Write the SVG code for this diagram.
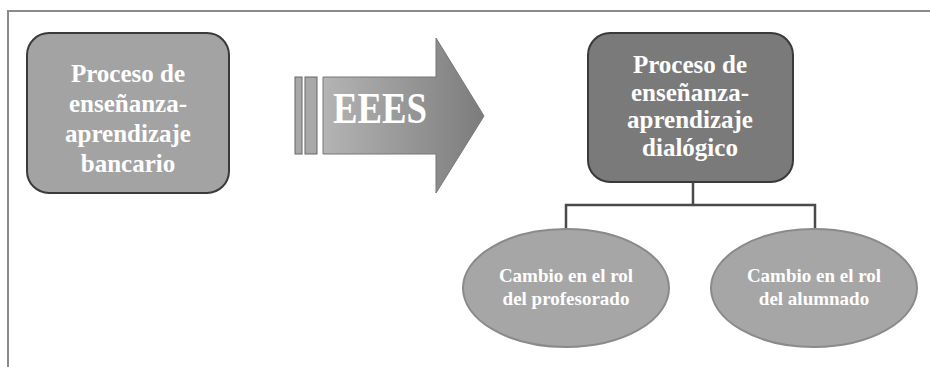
<svg xmlns="http://www.w3.org/2000/svg" width="930" height="367" viewBox="0 0 930 367">
<defs>
<linearGradient id="arrowGrad" x1="0" y1="0" x2="1" y2="0">
<stop offset="0" stop-color="#b4b4b4"/>
<stop offset="1" stop-color="#7c7c7c"/>
</linearGradient>
<style>
text{font-family:'Liberation Serif','Times New Roman',serif;font-weight:700;fill:#ffffff;text-anchor:middle}
.conn{fill:none;stroke:#4a4a4a;stroke-width:2.5}
</style>
</defs>
<rect width="930" height="367" fill="#ffffff"/>
<path d="M8,367 V11 H930" fill="none" stroke="#8a8a8a" stroke-width="2"/>
<g id="node-bancario" font-size="25">
<rect x="27" y="33" width="202" height="160" rx="22" fill="#a3a3a3" stroke="#3a3a3a" stroke-width="2"/>
<text x="128" y="82">Proceso de</text>
<text x="128" y="112">enseñanza-</text>
<text x="128" y="142">aprendizaje</text>
<text x="128" y="172">bancario</text>
</g>
<g id="node-eees">
<rect x="295" y="77" width="7" height="77" fill="#a8a8a8" stroke="#666" stroke-width="1"/>
<rect x="305" y="77" width="12" height="77" fill="#a8a8a8" stroke="#666" stroke-width="1"/>
<path d="M323,77 H436 V38 L484,116 L436,193 V154 H323 Z" fill="url(#arrowGrad)" stroke="#777" stroke-width="1"/>
<text x="380" y="123" font-size="44" textLength="94" lengthAdjust="spacingAndGlyphs">EEES</text>
</g>
<g id="node-dialogico" font-size="25">
<rect x="588" y="33" width="205" height="149" rx="22" fill="#7a7a7a" stroke="#3a3a3a" stroke-width="2"/>
<text x="690" y="73">Proceso de</text>
<text x="690" y="101">enseñanza-</text>
<text x="690" y="128">aprendizaje</text>
<text x="690" y="156">dialógico</text>
</g>
<g id="connectors">
<path class="conn" d="M693,182 V205"/>
<path class="conn" d="M566,228 V205 H815 V228"/>
</g>
<g id="node-profesorado" font-size="19">
<ellipse cx="566" cy="288" rx="103" ry="59" fill="#a6a6a6" stroke="#8a8a8a" stroke-width="2"/>
<text x="566" y="282">Cambio en el rol</text>
<text x="566" y="305">del profesorado</text>
</g>
<g id="node-alumnado" font-size="19">
<ellipse cx="814" cy="288" rx="103" ry="59" fill="#a6a6a6" stroke="#8a8a8a" stroke-width="2"/>
<text x="814" y="282">Cambio en el rol</text>
<text x="814" y="305">del alumnado</text>
</g>
</svg>
